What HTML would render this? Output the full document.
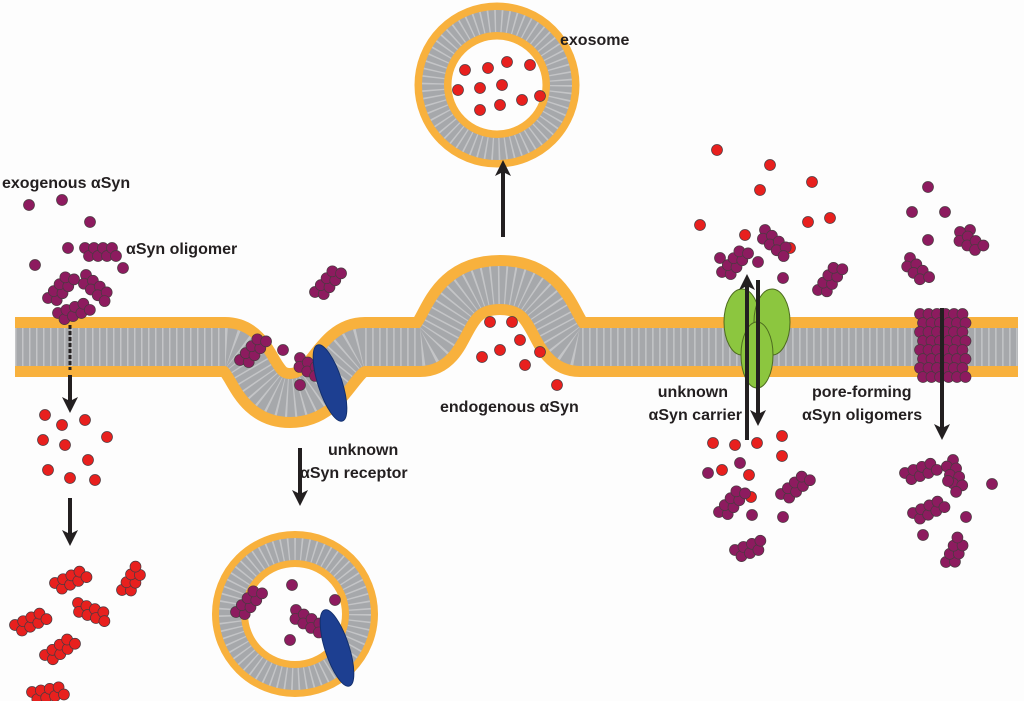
<!DOCTYPE html>
<html><head><meta charset="utf-8"><style>
html,body{margin:0;padding:0;background:#fdfdfd;}
svg{display:block}
text{font-family:"Liberation Sans",sans-serif;font-weight:bold;font-size:16px;fill:#231f20}
</style></head><body>
<svg id="s" width="1024" height="701" viewBox="0 0 1024 701" xmlns="http://www.w3.org/2000/svg">
<defs>
<marker id="ah" markerWidth="4" markerHeight="4" refX="2" refY="2" orient="auto" markerUnits="strokeWidth">
<path d="M0,0 L4,2 L0,4 L1,2 z" fill="#231f20"/></marker>
</defs>
<g id="mem">
<path d="M15,347 L225,347 C255,347 250,398 290,398 C330,398 335,347 365,347 L420,347 C450,347 440,285 500,285 C560,285 550,347 580,347 L1018,347" fill="none" stroke="#f8b13d" stroke-width="60"/>
<path d="M15,347 L225,347 C255,347 250,398 290,398 C330,398 335,347 365,347 L420,347 C450,347 440,285 500,285 C560,285 550,347 580,347 L1018,347" fill="none" stroke="#a6a8ab" stroke-width="38"/>
<path d="M15,347 L225,347 C255,347 250,398 290,398 C330,398 335,347 365,347 L420,347 C450,347 440,285 500,285 C560,285 550,347 580,347 L1018,347" fill="none" stroke="#c4c5c7" stroke-width="38" stroke-dasharray="1.5 5.5"/>
<rect x="0" y="310" width="15" height="80" fill="#fdfdfd"/>
<circle cx="497" cy="85" r="64" fill="none" stroke="#f8b13d" stroke-width="37"/>
<circle cx="497" cy="85" r="64" fill="none" stroke="#a6a8ab" stroke-width="22"/>
<circle cx="497" cy="85" r="64" fill="none" stroke="#c4c5c7" stroke-width="22" stroke-dasharray="1.5 5"/>
<circle cx="295" cy="614" r="65" fill="none" stroke="#f8b13d" stroke-width="36"/>
<circle cx="295" cy="614" r="65" fill="none" stroke="#a6a8ab" stroke-width="22"/>
<circle cx="295" cy="614" r="65" fill="none" stroke="#c4c5c7" stroke-width="22" stroke-dasharray="1.5 5"/>
</g>
<g id="dots"></g>
<ellipse cx="330" cy="383" rx="12" ry="40" transform="rotate(-18 330 383)" fill="#1d3f91" stroke="#13306e"/>
<ellipse cx="337" cy="648" rx="12" ry="40" transform="rotate(-18 337 648)" fill="#1d3f91" stroke="#13306e"/>
<ellipse cx="742" cy="322" rx="18" ry="33" fill="#8cc63f" stroke="#4d6b1f"/>
<ellipse cx="772" cy="322" rx="18" ry="33" fill="#8cc63f" stroke="#4d6b1f"/>
<ellipse cx="757" cy="355" rx="16" ry="33" fill="#8cc63f" stroke="#4d6b1f"/>
<g stroke="#231f20" stroke-width="4" fill="none">
<line x1="70" y1="375" x2="70" y2="405" marker-end="url(#ah)"/>
<line x1="70" y1="498" x2="70" y2="538" marker-end="url(#ah)"/>
<line x1="300" y1="448" x2="300" y2="498" marker-end="url(#ah)"/>
<line x1="503" y1="237" x2="503" y2="168" marker-end="url(#ah)"/>
<line x1="747" y1="440" x2="747" y2="282" marker-end="url(#ah)"/>
<line x1="758" y1="280" x2="758" y2="418" marker-end="url(#ah)"/>
<line x1="942" y1="308" x2="942" y2="432" marker-end="url(#ah)"/>
</g>
<line x1="70" y1="325" x2="70" y2="370" stroke="#231f20" stroke-width="3" stroke-dasharray="4 2"/>
<text x="2" y="188">exogenous αSyn</text>
<text x="126" y="254">αSyn oligomer</text>
<text x="560" y="45">exosome</text>
<text x="440" y="412">endogenous αSyn</text>
<text x="328" y="455">unknown</text>
<text x="300" y="478">αSyn receptor</text>
<text x="728" y="397" text-anchor="end">unknown</text>
<text x="742" y="420" text-anchor="end">αSyn carrier</text>
<text x="812" y="397">pore-forming</text>
<text x="802" y="420">αSyn oligomers</text>
</svg>
<script>
var g=document.getElementById('dots'),NS='http://www.w3.org/2000/svg';
var R='#e8201e',P='#8d1b5f';
function c(x,y,col){var e=document.createElementNS(NS,'circle');e.setAttribute('cx',x);e.setAttribute('cy',y);e.setAttribute('r',5.5);e.setAttribute('fill',col);e.setAttribute('stroke','#4a3a40');e.setAttribute('stroke-width','0.7');g.appendChild(e);}
function cl(x,y,ang,n,col){var a=ang*Math.PI/180,dx=Math.cos(a),dy=Math.sin(a);for(var i=0;i<n;i++){var r=i%2,k=Math.floor(i/2);var px=x+dx*k*9+(r?-dy*8+dx*4:0),py=y+dy*k*9+(r?dx*8+dy*4:0);c(px,py,col);}}
[[29,205],[62,200],[90,222],[68,248],[35,265],[123,268]].forEach(p=>c(p[0],p[1],P));
cl(85,248,0,8,P);cl(48,298,-50,8,P);cl(86,275,40,8,P);cl(58,313,-20,8,P);
[[45,415],[62,425],[85,420],[107,437],[43,440],[65,445],[88,460],[48,470],[70,478],[95,480]].forEach(p=>c(p[0],p[1],R));
cl(55,583,-25,8,R);cl(78,603,20,8,R);cl(15,625,-25,8,R);cl(45,655,-35,8,R);cl(32,692,-10,8,R);cl(122,590,-60,7,R);
cl(315,292,-50,8,P);cl(240,360,-50,8,P);c(283,350,P);c(300,385,P);cl(300,358,30,8,P);
cl(236,612,-50,8,P);c(292,585,P);c(290,640,P);c(335,600,P);cl(296,610,30,8,P);
[[465,70],[488,68],[507,62],[530,65],[458,90],[480,88],[502,85],[522,100],[480,110],[540,96],[500,105]].forEach(p=>c(p[0],p[1],R));
[[490,322],[512,322],[520,340],[500,350],[482,357],[540,352],[525,365],[557,385]].forEach(p=>c(p[0],p[1],R));
[[717,150],[770,165],[812,182],[760,190],[700,225],[745,235],[808,222],[830,218],[790,248]].forEach(p=>c(p[0],p[1],R));
[[758,262],[783,278],[720,258]].forEach(p=>c(p[0],p[1],P));
cl(722,272,-50,8,P);cl(765,230,40,8,P);cl(818,290,-55,8,P);
[[713,443],[735,445],[757,443],[782,436],[782,456],[722,470],[749,475],[751,497]].forEach(p=>c(p[0],p[1],R));
[[708,473],[740,463],[752,515],[783,517]].forEach(p=>c(p[0],p[1],P));
cl(719,512,-50,8,P);cl(781,494,-40,8,P);cl(735,550,-20,7,P);
[[928,187],[912,212],[945,212],[928,240],[970,230]].forEach(p=>c(p[0],p[1],P));
cl(960,232,30,7,P);cl(910,258,45,7,P);
for(var i=0;i<6;i++)for(var j=0;j<8;j++)c(920+i*8.5+(j%2)*3,314+j*9,P);
cl(905,473,-20,8,P);cl(953,460,70,8,P);c(948,481,P);c(992,484,P);cl(913,513,-25,8,P);c(923,535,P);c(966,517,P);cl(946,562,-65,7,P);
</script>
</body></html>
